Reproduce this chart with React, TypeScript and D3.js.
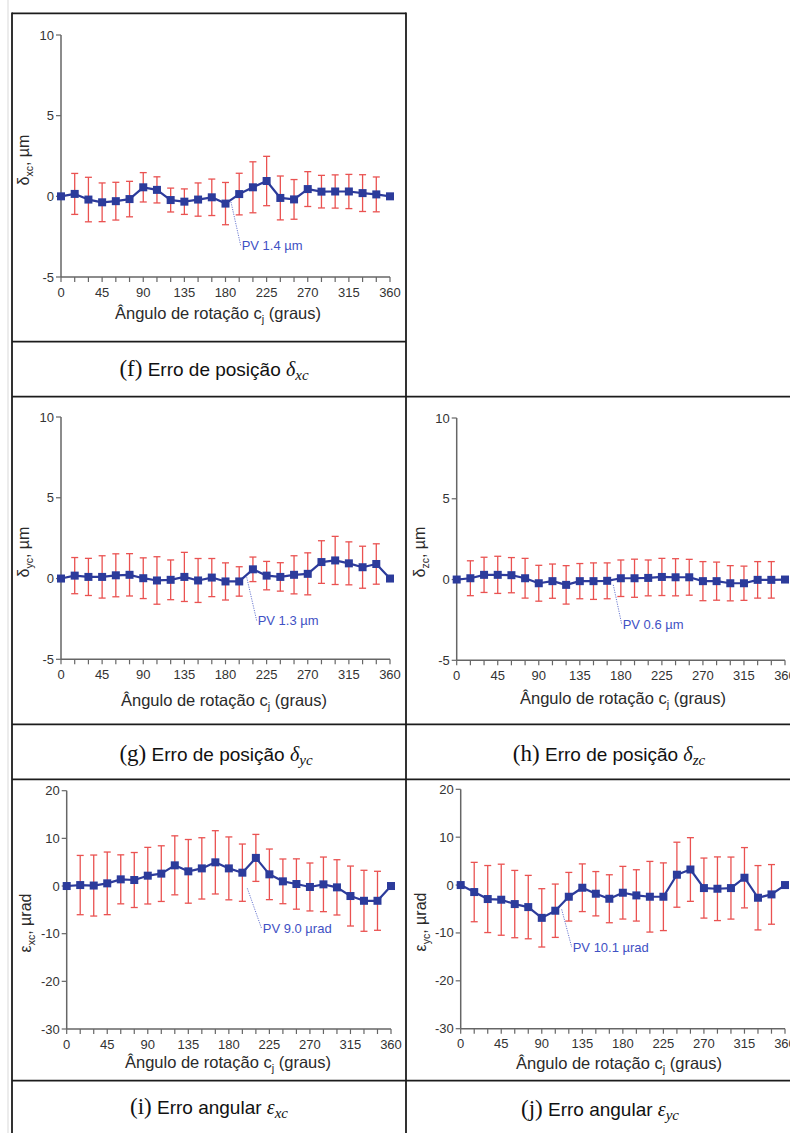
import React from 'react';
import * as d3 from 'd3';

// Rotation angles (degrees) at which each error component was measured
const ANGLES = [0, 15, 30, 45, 60, 75, 90, 105, 120, 135, 150, 165, 180, 195, 210, 225, 240, 255, 270, 285, 300, 315, 330, 345, 360];
const X_TICKS = [0, 45, 90, 135, 180, 225, 270, 315, 360];
const POS_Y_TICKS = [-5, 0, 5, 10];
const ANG_Y_TICKS = [-30, -20, -10, 0, 10, 20];

// Position error δxc (µm): mean and half-width of the error bar
const DXC_MEAN = [0, 0.15, -0.2, -0.37, -0.3, -0.17, 0.56, 0.4, -0.23, -0.33, -0.2, -0.06, -0.45, 0.14, 0.56, 0.95, -0.1, -0.19, 0.45, 0.29, 0.3, 0.3, 0.2, 0.12, 0];
const DXC_ERR = [0, 1.27, 1.38, 1.2, 1.17, 1.1, 0.91, 0.81, 0.74, 0.79, 1.03, 1.13, 1.31, 1.29, 1.58, 1.53, 1.36, 1.23, 1.08, 1.01, 1.03, 1.06, 1.14, 1.08, 0];

// Position error δyc (µm)
const DYC_MEAN = [0, 0.18, 0.1, 0.1, 0.2, 0.23, 0.02, -0.12, -0.08, 0.1, -0.12, 0.06, -0.18, -0.18, 0.57, 0.18, 0.1, 0.23, 0.29, 1.02, 1.12, 0.94, 0.7, 0.9, 0];
const DYC_ERR = [0, 1.12, 1.15, 1.31, 1.33, 1.31, 1.26, 1.47, 1.23, 1.52, 1.36, 1.18, 1.15, 0.91, 0.76, 0.88, 0.88, 1.18, 1.3, 1.32, 1.49, 1.33, 1.3, 1.25, 0];

// Position error δzc (µm)
const DZC_MEAN = [0, 0.08, 0.29, 0.29, 0.27, 0.08, -0.23, -0.1, -0.33, -0.1, -0.1, -0.08, 0.08, 0.08, 0.1, 0.16, 0.14, 0.14, -0.1, -0.1, -0.23, -0.23, -0.02, -0.02, 0];
const DZC_ERR = [0, 1.08, 1.09, 1.15, 1.09, 1.23, 1.11, 1.06, 1.19, 1.09, 1.13, 1.11, 1.13, 1.18, 1.11, 1.15, 1.15, 1.11, 1.21, 1.18, 1.09, 1.06, 1.13, 1.13, 0];

// Angular error εxc (µrad)
const EXC_MEAN = [0, 0.2, 0.1, 0.56, 1.4, 1.26, 2.17, 2.6, 4.34, 3.08, 3.7, 4.97, 3.7, 2.8, 5.9, 2.45, 0.98, 0.42, -0.2, 0.35, -0.28, -2.1, -3.1, -3.1, 0];
const EXC_ERR = [0, 6.22, 6.4, 6.57, 5.14, 5.77, 5.94, 5.84, 6.19, 6.68, 6.43, 6.64, 6.6, 6.01, 4.93, 5.31, 4.69, 5.28, 5.03, 5.73, 5.8, 6.29, 6.4, 6.19, 0];

// Angular error εyc (µrad)
const EYC_MEAN = [0, -1.46, -2.92, -3.06, -3.97, -4.6, -6.85, -5.36, -2.44, -0.56, -1.81, -2.86, -1.6, -2.16, -2.44, -2.44, 2.16, 3.25, -0.63, -0.77, -0.63, 1.53, -2.65, -1.95, 0];
const EYC_ERR = [0, 6.2, 7.0, 7.42, 7.03, 6.62, 6.09, 5.57, 5.08, 4.98, 4.63, 5.01, 5.5, 5.36, 7.38, 7.07, 6.79, 6.65, 6.27, 6.65, 6.48, 6.3, 6.72, 6.23, 0];

// Peak-to-valley labels
const PV_TEXT = ['PV 1.4 µm', 'PV 1.3 µm', 'PV 0.6 µm', 'PV 9.0 µrad', 'PV 10.1 µrad'];

const SANS = 'Arial, "Liberation Sans", Helvetica, sans-serif';
const SERIF = '"Liberation Serif", "Times New Roman", serif';
const BLUE = '#2c3b9b';
const RED = '#e8403f';
const AXIS = '#666';
const INK = '#2a2a2a';

type PanelSpec = {
  mean: number[];
  err: number[];
  yTicks: number[];
  yDomain: [number, number];
  x0: number; x1: number; yTop: number; yBottom: number;
  symbol: string; sub: string; unit: string;
  labelX: number; labelY: number;
  titleX: number; titleY: number;
  pv: string;
  pvFrom: [number, number];
  pvTo: [number, number];
  caption: { letter: string; text: string; symbol: string; sub: string; cx: number; cy: number };
};

const PANELS: PanelSpec[] = [
  {
    mean: DXC_MEAN, err: DXC_ERR, yTicks: POS_Y_TICKS, yDomain: [-5, 10],
    x0: 61, x1: 390, yTop: 35, yBottom: 277,
    symbol: 'δ', sub: 'xc', unit: 'µm', labelX: 23, labelY: 160,
    titleX: 218, titleY: 313, pv: PV_TEXT[0], pvFrom: [186, -0.35], pvTo: [196.6, -3.04],
    caption: { letter: '(f)', text: 'Erro de posição', symbol: 'δ', sub: 'xc', cx: 214, cy: 370 },
  },
  {
    mean: DYC_MEAN, err: DYC_ERR, yTicks: POS_Y_TICKS, yDomain: [-5, 10],
    x0: 61, x1: 390, yTop: 417, yBottom: 659.3,
    symbol: 'δ', sub: 'yc', unit: 'µm', labelX: 23, labelY: 552,
    titleX: 224, titleY: 700, pv: PV_TEXT[1], pvFrom: [203.2, 0.08], pvTo: [214.1, -2.6],
    caption: { letter: '(g)', text: 'Erro de posição', symbol: 'δ', sub: 'yc', cx: 216, cy: 755 },
  },
  {
    mean: DZC_MEAN, err: DZC_ERR, yTicks: POS_Y_TICKS, yDomain: [-5, 10],
    x0: 456.7, x1: 785, yTop: 418, yBottom: 660.3,
    symbol: 'δ', sub: 'zc', unit: 'µm', labelX: 419, labelY: 552,
    titleX: 623, titleY: 698, pv: PV_TEXT[2], pvFrom: [171.7, -0.33], pvTo: [180.9, -2.75],
    caption: { letter: '(h)', text: 'Erro de posição', symbol: 'δ', sub: 'zc', cx: 609, cy: 755 },
  },
  {
    mean: EXC_MEAN, err: EXC_ERR, yTicks: ANG_Y_TICKS, yDomain: [-30, 20],
    x0: 66.7, x1: 391, yTop: 790.7, yBottom: 1029,
    symbol: 'ε', sub: 'xc', unit: 'µrad', labelX: 25, labelY: 923,
    titleX: 228, titleY: 1062, pv: PV_TEXT[3], pvFrom: [200.5, -0.48], pvTo: [216.5, -9.0],
    caption: { letter: '(i)', text: 'Erro angular', symbol: 'ε', sub: 'xc', cx: 209, cy: 1108 },
  },
  {
    mean: EYC_MEAN, err: EYC_ERR, yTicks: ANG_Y_TICKS, yDomain: [-30, 20],
    x0: 460.7, x1: 785, yTop: 789.3, yBottom: 1028.7,
    symbol: 'ε', sub: 'yc', unit: 'µrad', labelX: 420, labelY: 922,
    titleX: 619, titleY: 1063, pv: PV_TEXT[4], pvFrom: [112.1, -5.08], pvTo: [123.2, -12.95],
    caption: { letter: '(j)', text: 'Erro angular', symbol: 'ε', sub: 'yc', cx: 600, cy: 1110 },
  },
];

function Panel({ spec }: { spec: PanelSpec }) {
  const x = d3.scaleLinear().domain([0, 360]).range([spec.x0, spec.x1]);
  const y = d3.scaleLinear().domain(spec.yDomain).range([spec.yBottom, spec.yTop]);
  const pts = ANGLES.map((a, i) => ({ a, m: spec.mean[i], e: spec.err[i] }));
  const line = d3.line<{ a: number; m: number }>().x(d => x(d.a)).y(d => y(d.m));
  const cap = 3.5;
  const ms = 8;
  const c = spec.caption;

  return (
    <g>
      {/* axes */}
      <line x1={spec.x0} x2={spec.x0} y1={spec.yTop} y2={spec.yBottom} stroke={AXIS} strokeWidth={1.5} />
      <line x1={spec.x0} x2={spec.x1} y1={spec.yBottom} y2={spec.yBottom} stroke={AXIS} strokeWidth={1.5} />
      {spec.yTicks.map(t => (
        <g key={'y' + t}>
          <line x1={spec.x0 - 5} x2={spec.x0} y1={y(t)} y2={y(t)} stroke={AXIS} strokeWidth={1.2} />
          <text x={spec.x0 - 7} y={y(t)} dy="0.35em" textAnchor="end" fontSize={13} fontFamily={SANS} fill="#333">{t}</text>
        </g>
      ))}
      {ANGLES.map(a => (
        <line key={'xt' + a} x1={x(a)} x2={x(a)} y1={spec.yBottom} y2={spec.yBottom + 5} stroke={AXIS} strokeWidth={1.2} />
      ))}
      {X_TICKS.map(t => (
        <text key={'xl' + t} x={x(t)} y={spec.yBottom + 19.5} textAnchor="middle" fontSize={13} fontFamily={SANS} fill="#333">{t}</text>
      ))}

      {/* axis titles */}
      <text x={spec.titleX} y={spec.titleY} dy="0.35em" textAnchor="middle" fontSize={16.5} fontFamily={SANS} fill={INK}>
        Ângulo de rotação c<tspan fontSize={11} dy={4}>j</tspan><tspan dy={-4}> (graus)</tspan>
      </text>
      <text transform={`translate(${spec.labelX},${spec.labelY}) rotate(-90)`} dy="0.35em" textAnchor="middle" fontSize={16} fontFamily={SANS} fill={INK}>
        {spec.symbol}<tspan fontSize={10.5} dy={4}>{spec.sub}</tspan><tspan dy={-4}>, {spec.unit}</tspan>
      </text>

      {/* error bars */}
      {pts.filter(d => d.e > 0).map(d => (
        <g key={'e' + d.a} stroke={RED} strokeWidth={1.3} opacity={0.9}>
          <line x1={x(d.a)} x2={x(d.a)} y1={y(d.m + d.e)} y2={y(d.m - d.e)} />
          <line x1={x(d.a) - cap} x2={x(d.a) + cap} y1={y(d.m + d.e)} y2={y(d.m + d.e)} />
          <line x1={x(d.a) - cap} x2={x(d.a) + cap} y1={y(d.m - d.e)} y2={y(d.m - d.e)} />
        </g>
      ))}

      {/* mean curve */}
      <path d={line(pts) || ''} fill="none" stroke={BLUE} strokeWidth={2.2} strokeLinejoin="round" />
      {pts.map(d => (
        <rect key={'m' + d.a} x={x(d.a) - ms / 2} y={y(d.m) - ms / 2} width={ms} height={ms} fill={BLUE} />
      ))}

      {/* peak-to-valley annotation */}
      <line x1={x(spec.pvFrom[0])} y1={y(spec.pvFrom[1])} x2={x(spec.pvTo[0])} y2={y(spec.pvTo[1])}
        stroke="#5a6acb" strokeWidth={0.9} strokeDasharray="1.2 1.2" />
      <text x={x(spec.pvTo[0]) + 1} y={y(spec.pvTo[1])} dy="0.35em" fontSize={13} fontFamily={SANS} fill="#3f51c4">{spec.pv}</text>

      {/* caption */}
      <text x={c.cx} y={c.cy} dy="0.35em" textAnchor="middle" fill="#111">
        <tspan fontFamily={SERIF} fontSize={23}>{c.letter}</tspan>
        <tspan fontFamily={SANS} fontSize={19}> {c.text} </tspan>
        <tspan fontFamily={SERIF} fontStyle="italic" fontSize={20}>{c.symbol}</tspan>
        <tspan fontFamily={SERIF} fontStyle="italic" fontSize={15} dy={4}>{c.sub}</tspan>
      </text>
    </g>
  );
}

export default function App() {
  const W = 790;
  const H = 1133;
  const border = '#1c1c1c';
  const hLines: [number, number, number][] = [
    [13.3, 12, 406], [341.7, 12, 406], [396.7, 12, 790], [724.3, 12, 790], [779.3, 12, 790], [1080.7, 12, 790],
  ];
  return (
    <svg width={W} height={H} style={{ position: 'absolute', left: 0, top: 0, background: '#fff' }}>
      <rect x={0} y={0} width={W} height={H} fill="#fff" />
      <line x1={8} x2={8} y1={0} y2={H} stroke="#e6e6e6" strokeWidth={1.5} />
      {hLines.map(([yy, a, b], i) => (
        <line key={'h' + i} x1={a} x2={b} y1={yy} y2={yy} stroke={border} strokeWidth={1.8} />
      ))}
      <line x1={12} x2={12} y1={12.4} y2={H} stroke={border} strokeWidth={1.8} />
      <line x1={406} x2={406} y1={12.4} y2={H} stroke={border} strokeWidth={1.8} />
      {PANELS.map((p, i) => <Panel key={i} spec={p} />)}
    </svg>
  );
}
